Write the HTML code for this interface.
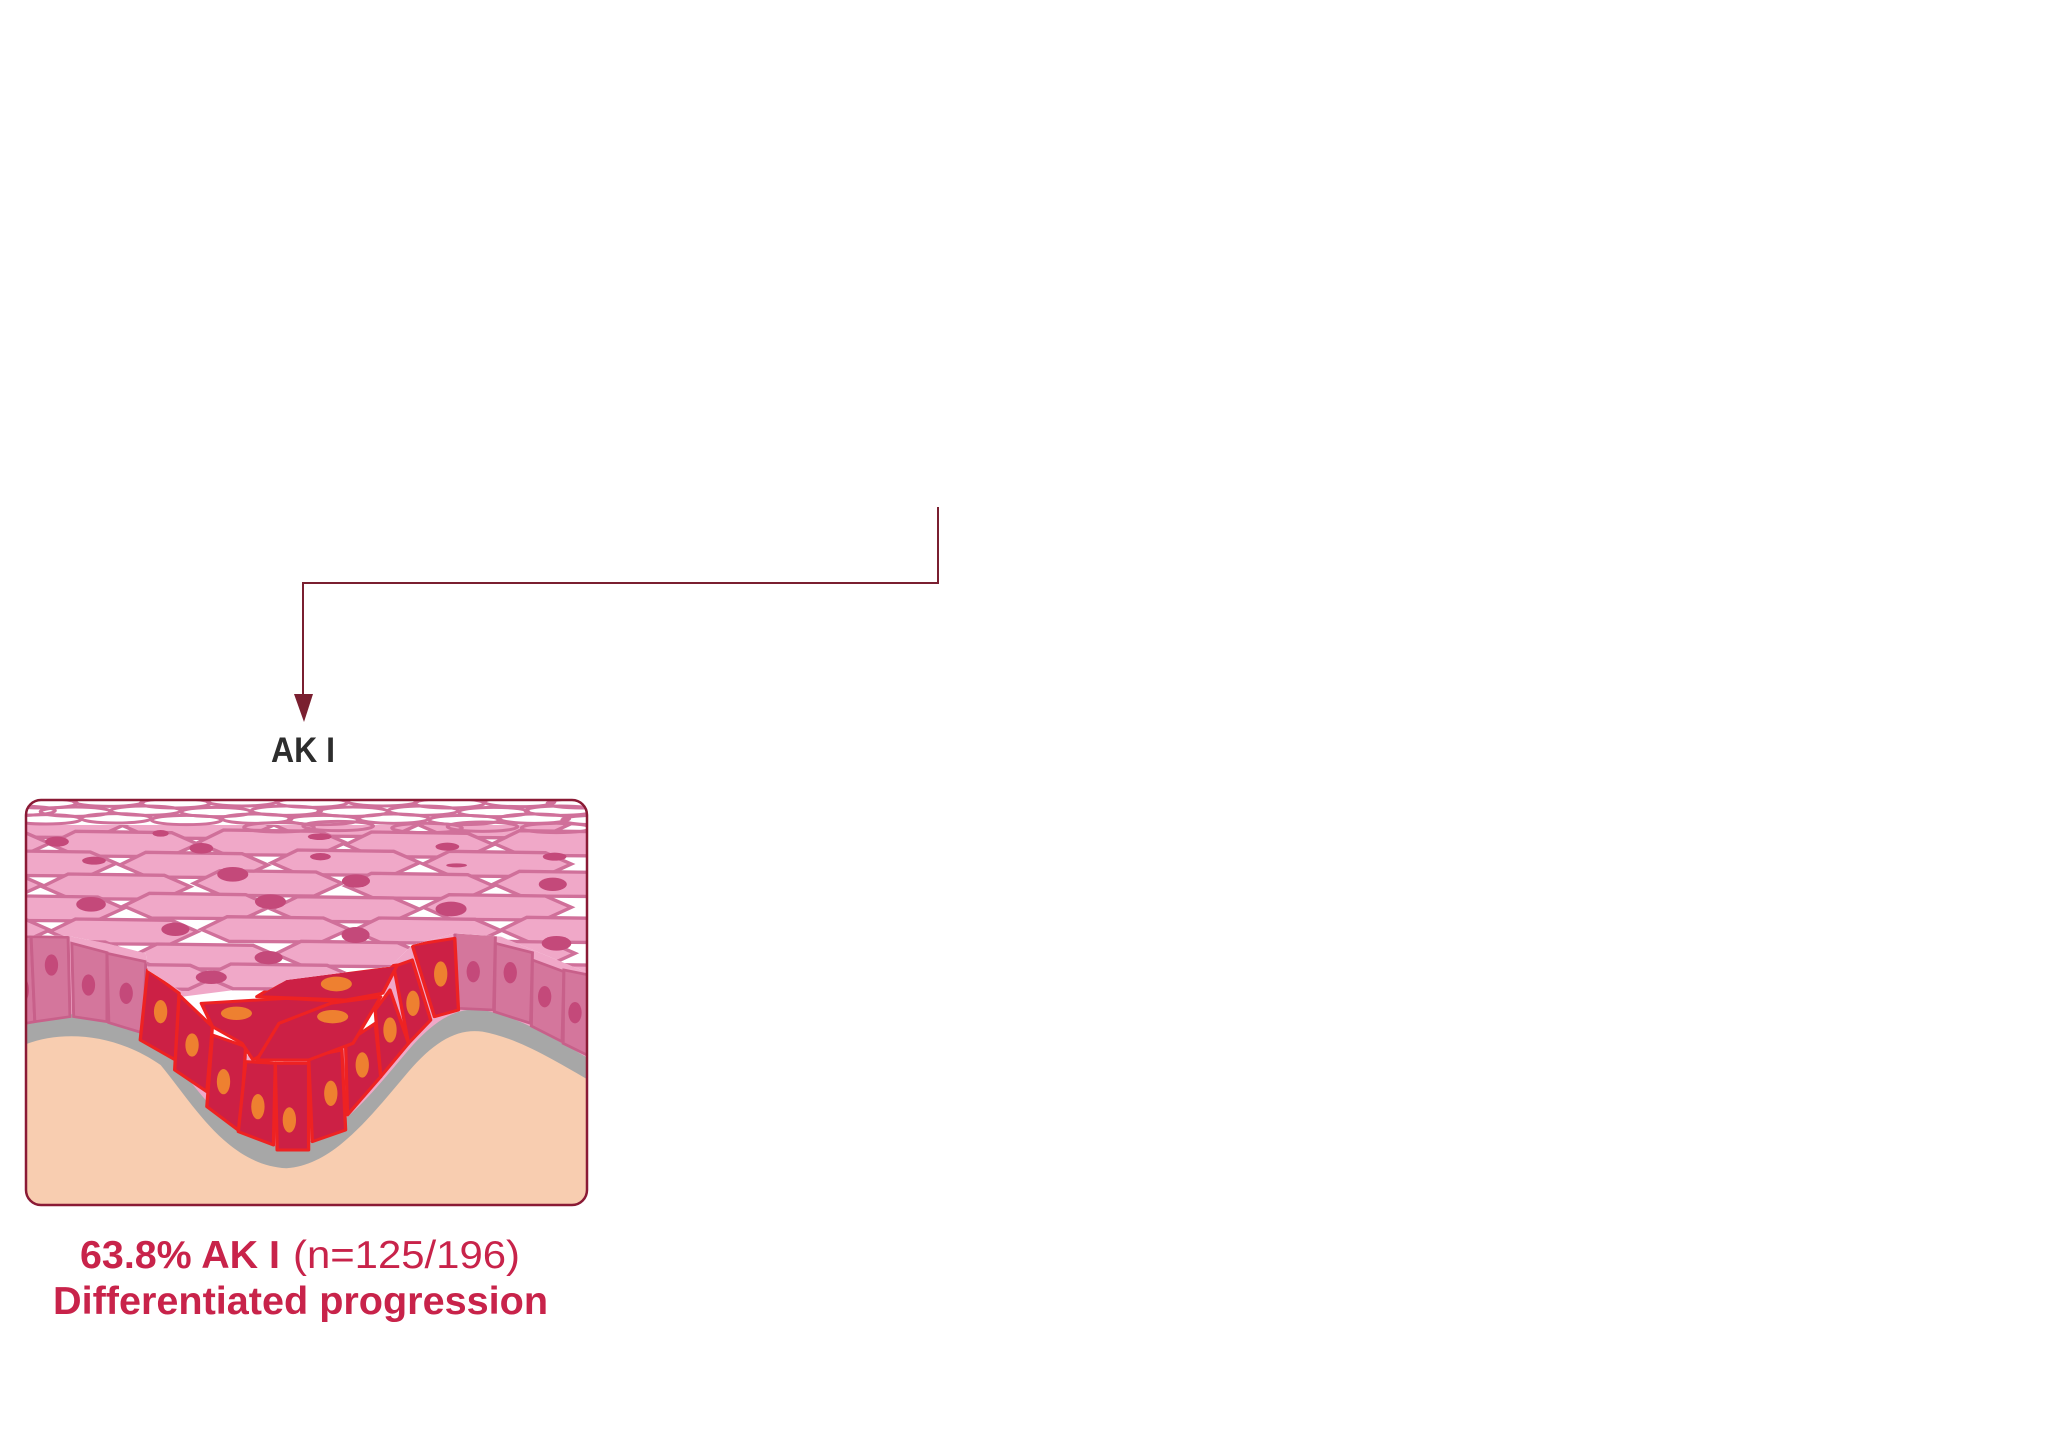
<!DOCTYPE html>
<html><head><meta charset="utf-8"><style>html,body{margin:0;padding:0;background:#fff}svg{display:block}</style></head>
<body>
<svg width="2050" height="1450" viewBox="0 0 2050 1450" xmlns="http://www.w3.org/2000/svg">
<defs>
<clipPath id="box"><rect x="26" y="800" width="561" height="405" rx="15"/></clipPath>
<clipPath id="pinkclip" clipPathUnits="userSpaceOnUse">
<path d="M0,-100 H1560 V440 L1300,320 L1175,310 L1060,345 L1000,410 L720,450 L640,500 L500,510 L430,480 L345,420 L340,370 L235,340 L130,318 L0,315 Z"/>
</clipPath>
<polygon id="hx" points="-200,0 -130,-38 130,-34 200,0 125,38 -125,36" fill="#f0a8c8" stroke="#d0709a" stroke-width="10"/>
<ellipse id="ring" rx="95" ry="14" fill="none" stroke="#d0709a" stroke-width="9"/>
</defs>

<polyline points="938,507 938,583 303,583 303,697" fill="none" stroke="#7a1f30" stroke-width="2"/>
<polygon points="294,694 313,694 304,722" fill="#7a1f30"/>
<text x="271" y="762" font-family="Liberation Sans, sans-serif" font-weight="bold" font-size="35" fill="#2d2d2d" textLength="64" lengthAdjust="spacingAndGlyphs">AK I</text>

<g clip-path="url(#box)">
<rect x="26" y="800" width="561" height="405" fill="#a7a7a7"/>
<g transform="translate(20,830) scale(0.370,0.3333)">
 <path d="M0,650 C100,600 250,605 380,705 C470,825 560,1005 720,1015 C850,1005 950,855 1050,725 C1120,635 1180,595 1250,605 C1350,625 1450,695 1560,765 V1300 H0 Z" fill="#f8cdb0"/>
 <path d="M0,-100 H1560 V700 C1450,630 1350,560 1250,540 C1180,530 1120,570 1050,660 C950,790 850,940 720,950 C560,940 470,760 380,640 C250,540 100,535 0,580 Z" fill="#f0a8c8"/>
 <g fill="#d4769c" stroke="#c8608a" stroke-width="8">
  <polygon points="-10,320 30,320 40,575 -10,585"/>
  <polygon points="30,320 130,322 135,560 40,575"/>
  <polygon points="140,340 235,368 235,575 145,560"/>
  <polygon points="235,370 340,395 335,610 240,578"/>
  <polygon points="1175,305 1285,312 1280,540 1185,535"/>
  <polygon points="1285,340 1385,368 1380,580 1282,545"/>
  <polygon points="1385,390 1470,425 1465,635 1382,588"/>
  <polygon points="1470,420 1560,440 1560,690 1468,640"/>
 </g>
 <g fill="#c4497a">
  <ellipse cx="10" cy="480" rx="14" ry="35"/>
  <ellipse cx="85" cy="405" rx="18" ry="32"/>
  <ellipse cx="185" cy="465" rx="18" ry="32"/>
  <ellipse cx="287" cy="490" rx="18" ry="32"/>
  <ellipse cx="1225" cy="425" rx="18" ry="32"/>
  <ellipse cx="1325" cy="428" rx="18" ry="32"/>
  <ellipse cx="1418" cy="500" rx="18" ry="32"/>
  <ellipse cx="1500" cy="548" rx="18" ry="32"/>
 </g>
 <polygon points="440,500 1000,420 960,600 700,700 560,660" fill="#fff"/>
 <g fill="#cc2045" stroke="#ee2222" stroke-width="9" stroke-linejoin="round">
  <polygon points="345,420 430,490 420,690 325,630"/>
  <polygon points="430,495 520,590 505,785 418,720"/>
  <polygon points="520,615 610,650 595,905 505,830"/>
  <polygon points="610,695 690,700 685,945 590,905"/>
  <polygon points="690,700 780,700 780,960 695,960"/>
  <polygon points="780,680 870,660 880,900 790,935"/>
  <polygon points="880,640 960,580 975,740 885,855"/>
  <polygon points="960,540 1000,480 1050,640 975,740"/>
  <polygon points="1010,410 1060,390 1110,570 1050,640"/>
  <polygon points="1060,345 1175,325 1185,540 1120,560"/>
  <polygon points="490,520 720,505 880,515 760,600 630,690 600,640 520,590"/>
  <polygon points="640,500 720,445 1020,405 980,490 880,510"/>
  <polygon points="640,690 700,580 840,520 975,500 900,640 780,690"/>
 </g>
 <g fill="#ee8030">
  <ellipse cx="380" cy="545" rx="18" ry="35"/>
  <ellipse cx="465" cy="645" rx="18" ry="35"/>
  <ellipse cx="550" cy="755" rx="18" ry="38"/>
  <ellipse cx="643" cy="830" rx="18" ry="38"/>
  <ellipse cx="728" cy="870" rx="18" ry="38"/>
  <ellipse cx="840" cy="790" rx="18" ry="38"/>
  <ellipse cx="925" cy="705" rx="18" ry="38"/>
  <ellipse cx="1000" cy="600" rx="18" ry="38"/>
  <ellipse cx="1062" cy="520" rx="18" ry="38"/>
  <ellipse cx="1137" cy="432" rx="18" ry="38"/>
  <ellipse cx="585" cy="550" rx="42" ry="20"/>
  <ellipse cx="855" cy="462" rx="42" ry="22"/>
  <ellipse cx="845" cy="560" rx="42" ry="20"/>
 </g>
 <g clip-path="url(#pinkclip)">
  <rect x="0" y="-100" width="1560" height="560" fill="#ffffff"/>
  <g>
   <use href="#hx" x="80" y="-15"/><use href="#hx" x="480" y="-12"/><use href="#hx" x="880" y="-18"/><use href="#hx" x="1280" y="-14"/>
   <use href="#hx" x="-120" y="40"/><use href="#hx" x="280" y="42"/><use href="#hx" x="680" y="38"/><use href="#hx" x="1080" y="44"/><use href="#hx" x="1480" y="40"/>
   <use href="#hx" x="60" y="100"/><use href="#hx" x="470" y="105"/><use href="#hx" x="880" y="98"/><use href="#hx" x="1290" y="102"/>
   <use href="#hx" x="-140" y="165"/><use href="#hx" x="260" y="170"/><use href="#hx" x="670" y="160"/><use href="#hx" x="1080" y="168"/><use href="#hx" x="1480" y="162"/>
   <use href="#hx" x="80" y="235"/><use href="#hx" x="480" y="228"/><use href="#hx" x="880" y="238"/><use href="#hx" x="1290" y="232"/>
   <use href="#hx" x="-120" y="300"/><use href="#hx" x="280" y="305"/><use href="#hx" x="690" y="298"/><use href="#hx" x="1100" y="302"/><use href="#hx" x="1500" y="300"/>
   <use href="#hx" x="100" y="370"/><use href="#hx" x="500" y="380"/><use href="#hx" x="890" y="372"/><use href="#hx" x="1300" y="370"/>
   <use href="#hx" x="330" y="440"/><use href="#hx" x="700" y="440"/><use href="#hx" x="1460" y="440"/>
  </g>
  <g fill="#c4497a">
   <ellipse cx="100" cy="35" rx="32" ry="15"/><ellipse cx="490" cy="55" rx="32" ry="16"/><ellipse cx="810" cy="20" rx="32" ry="10"/><ellipse cx="1155" cy="50" rx="32" ry="12"/>
   <ellipse cx="200" cy="92" rx="32" ry="12"/><ellipse cx="812" cy="80" rx="28" ry="11"/><ellipse cx="1445" cy="80" rx="32" ry="12"/><ellipse cx="1180" cy="106" rx="28" ry="6"/>
   <ellipse cx="575" cy="133" rx="42" ry="22"/><ellipse cx="908" cy="153" rx="38" ry="20"/><ellipse cx="1440" cy="163" rx="38" ry="20"/>
   <ellipse cx="192" cy="223" rx="40" ry="22"/><ellipse cx="677" cy="215" rx="42" ry="22"/><ellipse cx="1165" cy="237" rx="42" ry="22"/>
   <ellipse cx="420" cy="298" rx="38" ry="20"/><ellipse cx="907" cy="315" rx="38" ry="24"/><ellipse cx="1450" cy="340" rx="40" ry="22"/>
   <ellipse cx="672" cy="383" rx="38" ry="20"/><ellipse cx="517" cy="442" rx="42" ry="20"/><ellipse cx="380" cy="10" rx="22" ry="10"/>
  </g>
 </g>
 <rect x="0" y="-100" width="1560" height="85" fill="#fff"/>
 <g>
  <use href="#ring" x="60" y="-80"/><use href="#ring" x="240" y="-85"/><use href="#ring" x="420" y="-80"/><use href="#ring" x="600" y="-86"/><use href="#ring" x="790" y="-82"/><use href="#ring" x="980" y="-86"/><use href="#ring" x="1160" y="-80"/><use href="#ring" x="1350" y="-84"/><use href="#ring" x="1520" y="-80"/>
  <use href="#ring" x="0" y="-58"/><use href="#ring" x="150" y="-55"/><use href="#ring" x="340" y="-58"/><use href="#ring" x="530" y="-54"/><use href="#ring" x="720" y="-58"/><use href="#ring" x="900" y="-55"/><use href="#ring" x="1090" y="-58"/><use href="#ring" x="1280" y="-54"/><use href="#ring" x="1460" y="-58"/>
  <use href="#ring" x="70" y="-32"/><use href="#ring" x="260" y="-35"/><use href="#ring" x="450" y="-30"/><use href="#ring" x="640" y="-34"/><use href="#ring" x="820" y="-30"/><use href="#ring" x="1010" y="-34"/><use href="#ring" x="1200" y="-30"/><use href="#ring" x="1390" y="-34"/><use href="#ring" x="1560" y="-30"/>
  <use href="#ring" x="700" y="-8"/><use href="#ring" x="1100" y="-6"/><use href="#ring" x="1250" y="-10"/><use href="#ring" x="1450" y="-6"/><use href="#ring" x="860" y="-12"/>
 </g>
</g>
</g>
<rect x="26" y="800" width="561" height="405" rx="15" fill="none" stroke="#8a1a35" stroke-width="2.5"/>

<text y="1268" font-family="Liberation Sans, sans-serif" font-size="39" fill="#c8234a">
 <tspan x="80" font-weight="bold" textLength="200" lengthAdjust="spacingAndGlyphs">63.8% AK I</tspan>
 <tspan x="293" textLength="227" lengthAdjust="spacingAndGlyphs">(n=125/196)</tspan>
</text>
<text x="53" y="1314" font-family="Liberation Sans, sans-serif" font-size="39" font-weight="bold" fill="#c8234a" textLength="495" lengthAdjust="spacingAndGlyphs">Differentiated progression</text>
</svg>
</body></html>
